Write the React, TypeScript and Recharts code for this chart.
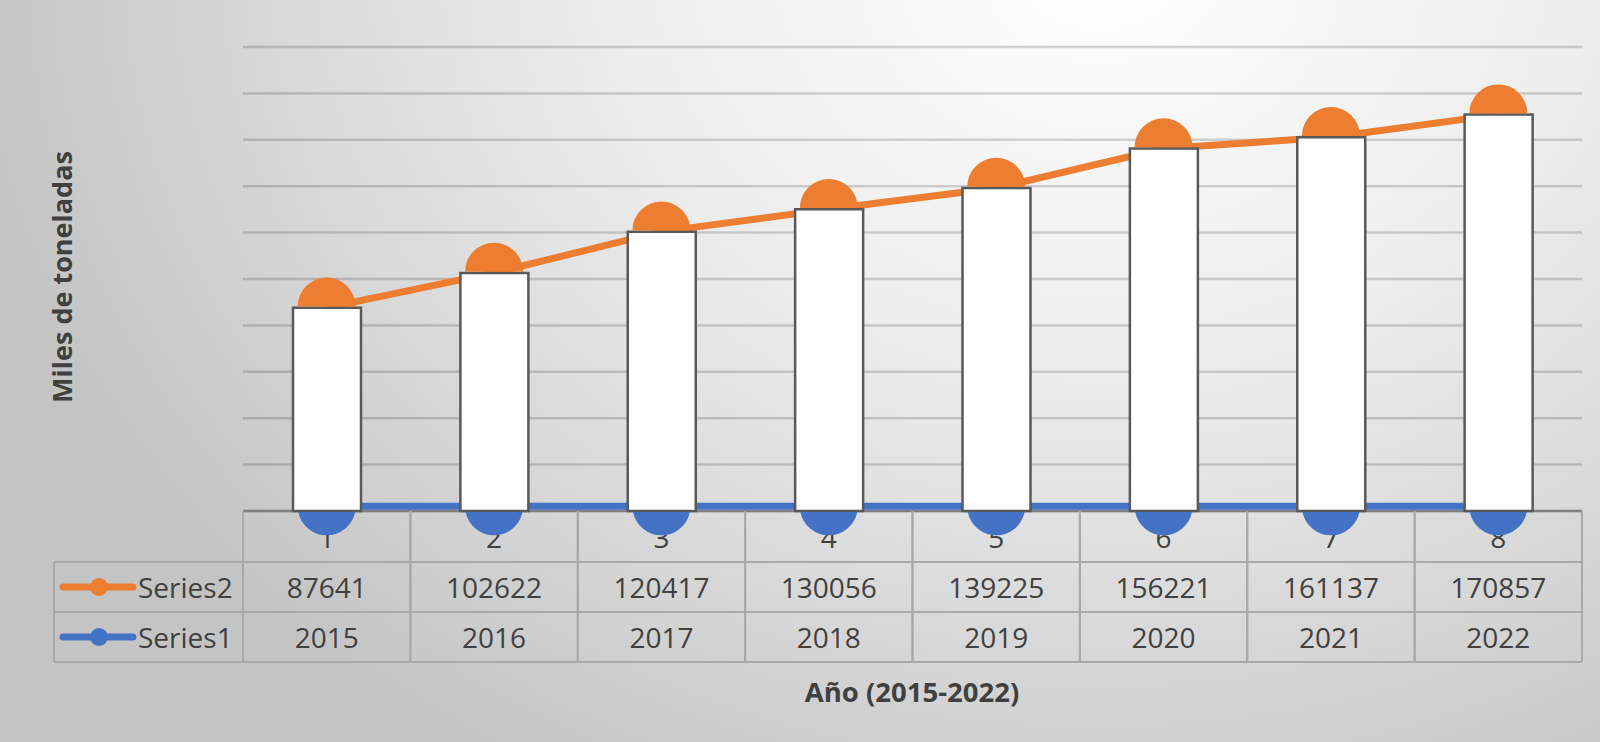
import React from "react";
import { Bar, CartesianGrid, ComposedChart, Line, XAxis, YAxis } from "recharts";

const categories = ["1", "2", "3", "4", "5", "6", "7", "8"];
const series2 = [87641, 102622, 120417, 130056, 139225, 156221, 161137, 170857];
const series1 = [2015, 2016, 2017, 2018, 2019, 2020, 2021, 2022];
const yTicks = [0, 20000, 40000, 60000, 80000, 100000, 120000, 140000, 160000, 180000, 200000];

const data = categories.map((cat, i) => ({ cat, s2: series2[i], s1: series1[i] }));

const W = 1600;
const H = 742;
const LEFT = 243;
const RIGHT = 1582;
const TOP = 47;
const BASE = 511;
const COL = (RIGHT - LEFT) / 8;
const TABLE_LEFT = 54;
const DOT_R = 29;

const ORANGE = "#ED7D31";
const BLUE = "#4472C4";
const TEXT = "#404040";
const BORDER = "#a9a9a9";
const FONT = "'Open Sans', sans-serif";

// upper half only: the bar hides the rest
function TopDot(props: any) {
  const { cx, cy } = props;
  if (cx == null || cy == null) return null;
  const y = cy - 1.2;
  return <path d={`M${cx - DOT_R},${y} A${DOT_R},${DOT_R} 0 0 1 ${cx + DOT_R},${y} Z`} fill={ORANGE} />;
}

// part of the circle below the bar bottom
function BottomDot(props: any) {
  const { cx, cy } = props;
  if (cx == null || cy == null) return null;
  const d = BASE + 1 - cy;
  if (d >= DOT_R) return null;
  const dx = Math.sqrt(DOT_R * DOT_R - d * d);
  const y = BASE + 1;
  return <path d={`M${cx - dx},${y} A${DOT_R},${DOT_R} 0 0 0 ${cx + dx},${y} Z`} fill={BLUE} />;
}

function TableTick(props: any) {
  const { x, y, payload } = props;
  const i = payload.index;
  const x0 = x - COL / 2;
  const x1 = x + COL / 2;
  const r1 = y + 51;
  const r2 = y + 101;
  const r3 = y + 151;
  const txt = { fill: TEXT, fontSize: 28, fontFamily: FONT, textAnchor: "middle" as const, dominantBaseline: "central" as const };
  const clipId = `digit-clip-${i}`;
  return (
    <g>
      <defs>
        <clipPath id={clipId}>
          <rect x={x0} y={y + 24} width={COL} height={40} />
        </clipPath>
      </defs>
      <line x1={x0} x2={x0} y1={y} y2={r3} stroke={BORDER} strokeWidth={2} />
      <line x1={x1} x2={x1} y1={y} y2={r3} stroke={BORDER} strokeWidth={2} />
      <line x1={x0} x2={x1} y1={r1} y2={r1} stroke={BORDER} strokeWidth={2} />
      <line x1={x0} x2={x1} y1={r2} y2={r2} stroke={BORDER} strokeWidth={2} />
      <line x1={x0} x2={x1} y1={r3} y2={r3} stroke={BORDER} strokeWidth={2} />
      <text x={x} y={y + 26} {...txt} clipPath={`url(#${clipId})`}>{payload.value}</text>
      <text x={x} y={y + 76} {...txt}>{series2[i]}</text>
      <text x={x} y={y + 126} {...txt}>{series1[i]}</text>
      {i === 0 && (
        <g>
          <line x1={TABLE_LEFT} x2={x0} y1={r1} y2={r1} stroke={BORDER} strokeWidth={2} />
          <line x1={TABLE_LEFT} x2={x0} y1={r2} y2={r2} stroke={BORDER} strokeWidth={2} />
          <line x1={TABLE_LEFT} x2={x0} y1={r3} y2={r3} stroke={BORDER} strokeWidth={2} />
          <line x1={TABLE_LEFT} x2={TABLE_LEFT} y1={r1} y2={r3} stroke={BORDER} strokeWidth={2} />
          <line x1={63} x2={133} y1={y + 76} y2={y + 76} stroke={ORANGE} strokeWidth={7} strokeLinecap="round" />
          <circle cx={99} cy={y + 76} r={9} fill={ORANGE} />
          <text x={138} y={y + 76} {...txt} textAnchor="start">Series2</text>
          <line x1={63} x2={133} y1={y + 126} y2={y + 126} stroke={BLUE} strokeWidth={7} strokeLinecap="round" />
          <circle cx={99} cy={y + 126} r={9} fill={BLUE} />
          <text x={138} y={y + 126} {...txt} textAnchor="start">Series1</text>
        </g>
      )}
    </g>
  );
}

export default function App() {
  return (
    <div
      style={{
        position: "absolute",
        left: 0,
        top: 0,
        width: W,
        height: H,
        background:
          "radial-gradient(ellipse 1150px 950px at 1100px -40px, #ffffff 0%, #ededed 42%, #d8d8d8 72%, #c4c4c4 100%)",
        overflow: "hidden",
      }}
    >
      <ComposedChart
        width={W}
        height={H}
        data={data}
        margin={{ top: TOP, left: LEFT, right: W - RIGHT, bottom: H - BASE - 160 }}
      >
        <CartesianGrid horizontal vertical={false} stroke="#000000" strokeOpacity={0.16} strokeWidth={2.5} />
        <YAxis hide domain={[0, 200000]} ticks={yTicks} width={0} />
        <XAxis
          dataKey="cat"
          height={160}
          interval={0}
          tickSize={0}
          tickMargin={0}
          tickLine={false}
          axisLine={{ stroke: "#808080", strokeWidth: 2.5 }}
          tick={<TableTick />}
          zIndex={50}
        />
        <Line
          dataKey="s1"
          stroke={BLUE}
          strokeWidth={7}
          dot={<BottomDot />}
          activeDot={false}
          isAnimationActive={false}
          zIndex={250}
        />
        <Line
          dataKey="s2"
          stroke={ORANGE}
          strokeWidth={7}
          dot={<TopDot />}
          activeDot={false}
          isAnimationActive={false}
          zIndex={260}
        />
        <Bar
          dataKey="s2"
          barSize={68}
          fill="#ffffff"
          stroke="#595959"
          strokeWidth={2.5}
          isAnimationActive={false}
          zIndex={450}
        />
      </ComposedChart>
      <div
        style={{
          position: "absolute",
          left: 61,
          top: 277,
          transform: "translate(-50%, -50%) rotate(-90deg)",
          whiteSpace: "nowrap",
          fontFamily: FONT,
          fontWeight: 700,
          fontSize: 27,
          color: TEXT,
        }}
      >
        Miles de toneladas
      </div>
      <div
        style={{
          position: "absolute",
          left: 912,
          top: 691,
          transform: "translate(-50%, -50%)",
          whiteSpace: "nowrap",
          fontFamily: FONT,
          fontWeight: 700,
          fontSize: 27.5,
          color: TEXT,
        }}
      >
        Año (2015-2022)
      </div>
    </div>
  );
}
